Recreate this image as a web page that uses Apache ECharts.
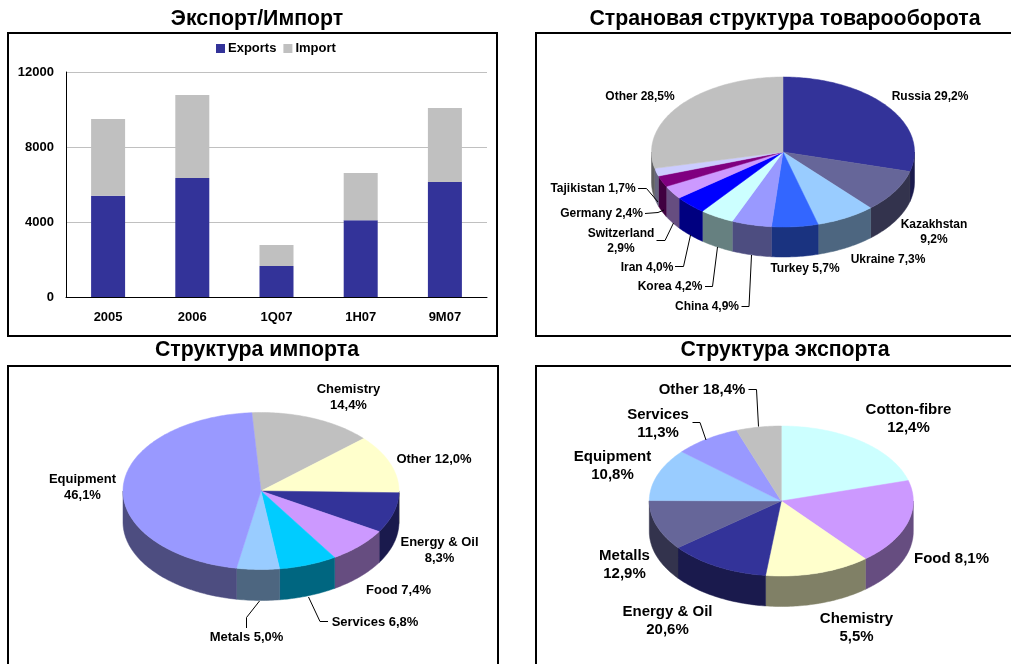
<!doctype html>
<html>
<head>
<meta charset="utf-8">
<title>Экспорт/Импорт</title>
<style>
html, body { margin: 0; padding: 0; background: #fff; }
#chart { width: 1011px; height: 664px; }
</style>
</head>
<body>
<div id="chart"></div>
<script src="https://cdn.jsdelivr.net/npm/echarts@6/dist/echarts.min.js"></script>
<script>
var FONT = '"Liberation Sans", Arial, sans-serif';

// bar chart
var periods = ['2005', '2006', '1Q07', '1H07', '9M07'];
var exportsValues = [5400, 6350, 1650, 4100, 6130];
var importValues = [4100, 4430, 1120, 2510, 3950];
var yTicks = [0, 4000, 8000, 12000];

// country structure
var countryValues = [29.2, 9.2, 7.3, 5.7, 4.9, 4.2, 4.0, 2.9, 2.4, 1.7, 28.5];
var countryLabels = ['Russia 29,2%', 'Kazakhstan\n9,2%', 'Ukraine 7,3%', 'Turkey 5,7%', 'China 4,9%', 'Korea 4,2%', 'Iran 4,0%', 'Switzerland\n2,9%', 'Germany 2,4%', 'Tajikistan 1,7%', 'Other 28,5%'];
var countryColors = ['#333399', '#666699', '#99ccff', '#3366ff', '#9999ff', '#ccffff', '#0000ff', '#cc99ff', '#800080', '#ccccff', '#c0c0c0'];

// import structure
var importShares = [14.4, 12.0, 8.3, 7.4, 6.8, 5.0, 46.1];
var importLabels = ['Chemistry\n14,4%', 'Other 12,0%', 'Energy & Oil\n8,3%', 'Food 7,4%', 'Services 6,8%', 'Metals 5,0%', 'Equipment\n46,1%'];
var importColors = ['#c0c0c0', '#ffffcc', '#333399', '#cc99ff', '#00ccff', '#99ccff', '#9999ff'];

// export structure: the source slices and the printed percents do not agree, both kept as drawn
var exportShares = [20.6, 18.4, 12.9, 12.4, 10.8, 11.3, 8.1, 5.5];
var exportLabels = ['Cotton-fibre\n12,4%', 'Food 8,1%', 'Chemistry\n5,5%', 'Energy & Oil\n20,6%', 'Metalls\n12,9%', 'Equipment\n10,8%', 'Services\n11,3%', 'Other 18,4%'];
var exportColors = ['#ccffff', '#cc99ff', '#ffffcc', '#333399', '#666699', '#99ccff', '#9999ff', '#c0c0c0'];

// label layout, separate from the data
var countryLayout = {
	cx: 783, cy: 152, rx: 131.5, ry: 75, depth: 30, start: 0, fontSize: 12, lineHeight: 15,
	labelPos: [[930, 97], [934, 232.5], [888, 260], [805, 269], [707, 307], [670, 287], [647, 268], [621, 241], [601.5, 214], [593, 189], [640, 97]],
	leaders: [
		[[638, 188.5], [646.5, 188.5], [658, 202]],
		[[645, 213.5], [658, 212.5], [664, 210]],
		[[656.5, 240.5], [665, 240.5], [673.5, 223]],
		[[675, 266.5], [683.5, 266.5], [690.5, 235]],
		[[705, 286.5], [712.5, 286.5], [717.5, 247]],
		[[741.5, 306.5], [749, 306.5], [751.5, 255]]
	]
};
var importLayout = {
	cx: 261, cy: 491, rx: 138, ry: 78.5, depth: 31, start: -3.8, fontSize: 13, lineHeight: 16,
	labelPos: [[348.5, 397.5], [434, 459], [439.5, 550.5], [398.5, 590], [375, 622], [246.5, 637.5], [82.5, 487]],
	leaders: [
		[[328, 621.5], [320, 621.5], [308.5, 597]],
		[[246.5, 628], [246.5, 617.5], [259.5, 601]]
	]
};
var exportLayout = {
	cx: 781.3, cy: 501, rx: 132, ry: 75, depth: 30.5, start: 0, fontSize: 15, lineHeight: 18,
	labelPos: [[908.5, 419], [951.5, 559], [856.5, 628], [667.5, 621], [624.5, 565], [612.5, 466], [658, 424], [702, 390]],
	leaders: [
		[[748.5, 389.5], [756.5, 389.5], [758.5, 426.5]],
		[[692.5, 422.5], [700, 422.5], [706, 440]]
	]
};

function darken(hex) {
	var n = parseInt(hex.slice(1), 16);
	var r = (n >> 16) & 255, g = (n >> 8) & 255, b = n & 255;
	return 'rgb(' + Math.round(r / 2) + ',' + Math.round(g / 2) + ',' + Math.round(b / 2) + ')';
}

// tilted pie: slice angles come from the values, clockwise from the top
function tiltedPie(values, labels, colors, lay) {
	var total = values.reduce(function (a, b) { return a + b; }, 0);
	function pt(deg, dy) {
		var a = deg * Math.PI / 180;
		return [lay.cx + lay.rx * Math.sin(a), lay.cy - lay.ry * Math.cos(a) + (dy || 0)];
	}
	function arc(from, to, dy) {
		var pts = [], n = Math.max(2, Math.ceil(Math.abs(to - from)));
		for (var i = 0; i <= n; i++) pts.push(pt(from + (to - from) * i / n, dy));
		return pts;
	}
	return {
		type: 'custom',
		coordinateSystem: 'none',
		silent: true,
		data: values,
		renderItem: function (params, api) {
			var idx = params.dataIndex;
			var before = 0;
			for (var i = 0; i < idx; i++) before += values[i];
			var a0 = lay.start + before / total * 360;
			var a1 = a0 + api.value(0) / total * 360;
			var kids = [];
			// wall only on the front half, checked for the slice and its turn past 360
			[0, 360].forEach(function (shift) {
				var from = Math.max(a0 + shift, 90), to = Math.min(a1 + shift, 270);
				if (to > from) {
					kids.push({
						type: 'polygon',
						shape: { points: arc(from, to, 0).concat(arc(to, from, lay.depth)) },
						style: { fill: darken(colors[idx]), stroke: darken(colors[idx]), lineWidth: 0.5 }
					});
				}
			});
			kids.push({
				type: 'polygon',
				shape: { points: [[lay.cx, lay.cy]].concat(arc(a0, a1, 0)) },
				style: { fill: colors[idx], stroke: colors[idx], lineWidth: 0.5 }
			});
			kids.push({
				type: 'text',
				z2: 5,
				style: {
					text: labels[idx],
					x: lay.labelPos[idx][0],
					y: lay.labelPos[idx][1],
					align: 'center',
					verticalAlign: 'middle',
					fill: '#000',
					fontFamily: FONT,
					fontWeight: 'bold',
					fontSize: lay.fontSize,
					lineHeight: lay.lineHeight
				}
			});
			// leader lines go with the last slice so they sit on top
			if (idx === values.length - 1) {
				lay.leaders.forEach(function (line) {
					kids.push({
						type: 'polyline',
						z2: 6,
						shape: { points: line },
						style: { stroke: '#000', lineWidth: 1, fill: null }
					});
				});
			}
			return { type: 'group', children: kids };
		}
	};
}

function frame(x, y, w, h) {
	return {
		type: 'rect',
		silent: true,
		shape: { x: x, y: y, width: w, height: h },
		style: { fill: null, stroke: '#000', lineWidth: 2 }
	};
}

function heading(text, x, y) {
	return {
		text: text,
		left: x,
		top: y,
		textAlign: 'center',
		padding: 0,
		textStyle: { fontFamily: FONT, fontSize: 21.3, fontWeight: 'bold', color: '#000' }
	};
}

var myChart = echarts.init(document.getElementById('chart'), null, { renderer: 'canvas' });
var option = {
	animation: false,
	backgroundColor: '#fff',
	title: [
		heading('Экспорт/Импорт', 257, 9),
		heading('Страновая структура товарооборота', 785, 9),
		heading('Структура импорта', 257, 340),
		heading('Структура экспорта', 785, 340)
	],
	graphic: [
		frame(8, 33, 489, 303),
		frame(536, 33, 500, 303),
		frame(8, 366, 490, 320),
		frame(536, 366, 500, 320)
	],
	legend: {
		left: 216,
		top: 42,
		padding: 0,
		itemWidth: 9,
		itemHeight: 9,
		itemGap: 7,
		selectedMode: false,
		icon: 'rect',
		data: ['Exports', 'Import'],
		textStyle: { fontFamily: FONT, fontSize: 13, fontWeight: 'bold', color: '#000', padding: [0, 0, 0, -2] }
	},
	grid: { left: 66, right: 524, top: 72, bottom: 367 },
	xAxis: {
		type: 'category',
		data: periods,
		axisLine: { lineStyle: { color: '#000', width: 1 } },
		axisTick: { show: false },
		axisLabel: { margin: 14, fontFamily: FONT, fontSize: 13, fontWeight: 'bold', color: '#000' }
	},
	yAxis: {
		type: 'value',
		min: yTicks[0],
		max: yTicks[yTicks.length - 1],
		interval: yTicks[1] - yTicks[0],
		axisLine: { show: true, lineStyle: { color: '#000', width: 1 } },
		axisTick: { show: false },
		axisLabel: {
			margin: 12,
			fontFamily: FONT,
			fontSize: 13,
			fontWeight: 'bold',
			color: '#000',
			formatter: function (v) { return String(v); }
		},
		splitLine: { lineStyle: { color: '#c0c0c0', width: 1 } }
	},
	series: [
		{ name: 'Exports', type: 'bar', stack: 'total', barWidth: 34, data: exportsValues, itemStyle: { color: '#333399' } },
		{ name: 'Import', type: 'bar', stack: 'total', barWidth: 34, data: importValues, itemStyle: { color: '#c0c0c0' } },
		tiltedPie(countryValues, countryLabels, countryColors, countryLayout),
		tiltedPie(importShares, importLabels, importColors, importLayout),
		tiltedPie(exportShares, exportLabels, exportColors, exportLayout)
	]
};
myChart.setOption(option);
</script>
</body>
</html>
